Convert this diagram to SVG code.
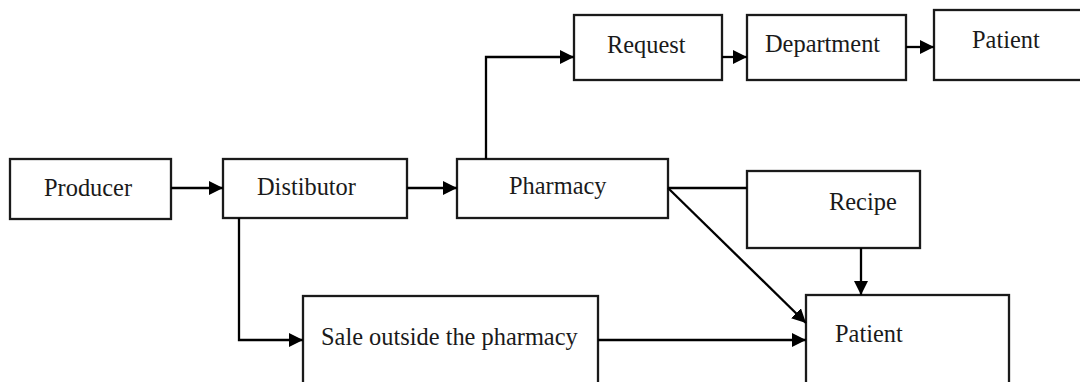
<svg xmlns="http://www.w3.org/2000/svg" width="1080" height="382" viewBox="0 0 1080 382">
<style>
.box{fill:#fff;stroke:#1a1a1a;stroke-width:2.3}
.lbl{font-family:"Liberation Serif","Times New Roman",serif;font-size:24.4px;fill:#1a1a1a}
.con{fill:none;stroke:#000;stroke-width:2.3}
</style>
<defs>
<marker id="ah" markerUnits="userSpaceOnUse" markerWidth="15" markerHeight="14" refX="14" refY="7" orient="auto">
<path d="M0,0 L14,7 L0,14 Z" fill="#000"/>
</marker>
</defs>
<rect width="1080" height="382" fill="#fff"/>
<g id="producer"><rect class="box" x="10" y="159" width="161" height="60"/><text class="lbl" x="44" y="196">Producer</text></g>
<g id="distibutor"><rect class="box" x="223" y="159" width="184" height="59"/><text class="lbl" x="257" y="195">Distibutor</text></g>
<g id="pharmacy"><rect class="box" x="457" y="159" width="211" height="59"/><text class="lbl" x="509" y="194">Pharmacy</text></g>
<g id="request"><rect class="box" x="574" y="15" width="148" height="65"/><text class="lbl" x="607" y="53">Request</text></g>
<g id="department"><rect class="box" x="747" y="15" width="159" height="65"/><text class="lbl" x="765" y="52">Department</text></g>
<g id="patient-top"><rect class="box" x="934" y="10" width="160" height="70"/><text class="lbl" x="972" y="48">Patient</text></g>
<g id="recipe"><rect class="box" x="747" y="171" width="173" height="77"/><text class="lbl" x="829" y="210">Recipe</text></g>
<g id="sale"><rect class="box" x="303" y="296" width="295" height="100"/><text class="lbl" x="321" y="345">Sale outside the pharmacy</text></g>
<g id="patient-bottom"><rect class="box" x="806" y="295" width="203" height="100"/><text class="lbl" x="835" y="342">Patient</text></g>
<g id="connectors">
<line class="con" x1="171" y1="188" x2="223" y2="188" marker-end="url(#ah)"/>
<line class="con" x1="407" y1="188" x2="457" y2="188" marker-end="url(#ah)"/>
<polyline class="con" points="486,159 486,57 574,57" marker-end="url(#ah)"/>
<line class="con" x1="722" y1="57" x2="747" y2="57" marker-end="url(#ah)"/>
<line class="con" x1="906" y1="47" x2="934" y2="47" marker-end="url(#ah)"/>
<line class="con" x1="668" y1="188" x2="747" y2="188"/>
<line class="con" x1="668" y1="188" x2="806" y2="323" marker-end="url(#ah)"/>
<line class="con" x1="861" y1="248" x2="861" y2="295" marker-end="url(#ah)"/>
<polyline class="con" points="239,218 239,340 303,340" marker-end="url(#ah)"/>
<line class="con" x1="598" y1="340" x2="806" y2="340" marker-end="url(#ah)"/>
</g>
</svg>
